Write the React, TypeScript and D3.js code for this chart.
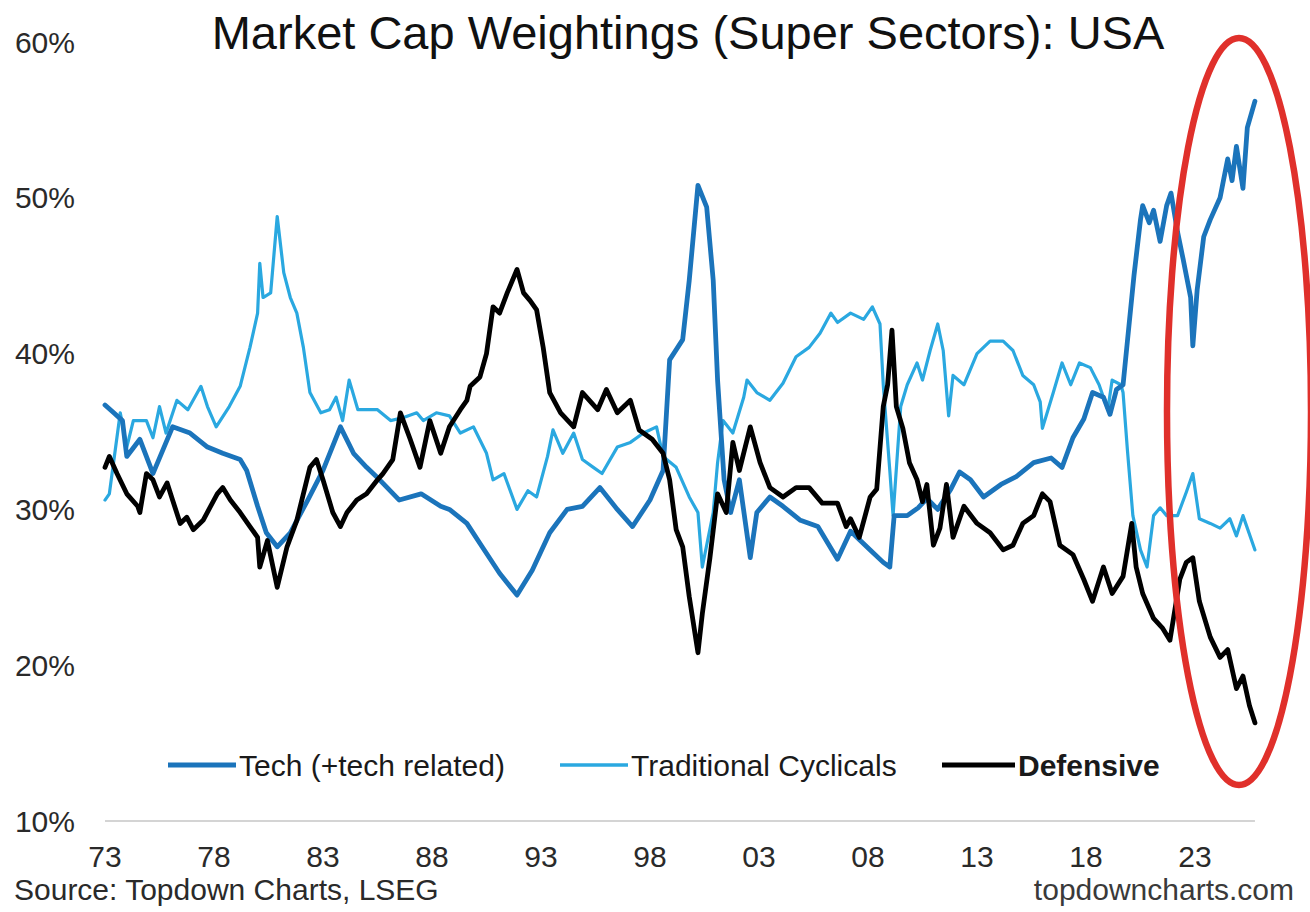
import React from 'react';
import * as d3 from 'd3';

// [year, % weight]
const tech: [number, number][] = [
  [1973.0, 36.7], [1973.4, 36.2], [1973.8, 35.7], [1974.0, 33.4], [1974.6, 34.5], [1975.2, 32.3],
  [1976.1, 35.3], [1976.9, 34.9], [1977.7, 34.0], [1978.4, 33.6], [1979.2, 33.2], [1979.5, 32.5],
  [1980.0, 30.2], [1980.4, 28.5], [1980.9, 27.6], [1981.5, 28.5], [1982.3, 30.6], [1983.0, 32.5],
  [1983.8, 35.3], [1984.4, 33.6], [1985.0, 32.7], [1985.6, 31.9], [1986.5, 30.6], [1987.5, 31.0],
  [1988.4, 30.2], [1988.8, 30.0], [1989.6, 29.1], [1990.3, 27.6], [1991.1, 25.9], [1991.9, 24.5],
  [1992.6, 26.1], [1993.4, 28.5], [1994.2, 30.0], [1994.9, 30.2], [1995.7, 31.4], [1996.5, 30.0],
  [1997.2, 28.9], [1998.0, 30.6], [1998.6, 32.5], [1998.9, 39.6], [1999.5, 40.9], [1999.8, 44.7],
  [2000.2, 50.8], [2000.6, 49.4], [2000.9, 44.7], [2001.1, 38.3], [2001.4, 31.9], [2001.7, 29.8],
  [2002.1, 31.9], [2002.6, 26.9], [2002.9, 29.8], [2003.5, 30.8], [2004.1, 30.2], [2004.9, 29.3],
  [2005.7, 28.9], [2006.6, 26.8], [2007.2, 28.6], [2008.1, 27.4], [2008.7, 26.6], [2009.0, 26.3],
  [2009.2, 29.6], [2009.8, 29.6], [2010.3, 30.1], [2010.7, 30.7], [2011.2, 30.0], [2011.8, 31.3],
  [2012.2, 32.4], [2012.7, 31.9], [2013.3, 30.8], [2014.1, 31.6], [2014.8, 32.1], [2015.6, 33.0],
  [2016.4, 33.3], [2016.9, 32.7], [2017.4, 34.6], [2017.9, 35.8], [2018.3, 37.5], [2018.8, 37.2],
  [2019.1, 36.1], [2019.4, 37.7], [2019.7, 38.0], [2019.9, 40.8], [2020.2, 45.0], [2020.5, 48.6],
  [2020.6, 49.5], [2020.9, 48.4], [2021.1, 49.2], [2021.4, 47.2], [2021.7, 49.5], [2021.9, 50.3],
  [2022.2, 47.8], [2022.45, 46.1], [2022.8, 43.6], [2022.9, 40.5], [2023.1, 44.1], [2023.4, 47.5],
  [2023.7, 48.6], [2024.15, 50.0], [2024.5, 52.5], [2024.7, 51.1], [2024.9, 53.3], [2025.2, 50.6],
  [2025.4, 54.5], [2025.75, 56.2],
];

const cyclicals: [number, number][] = [
  [1973.0, 30.6], [1973.2, 31.0], [1973.7, 36.2], [1974.0, 34.0], [1974.3, 35.7], [1974.9, 35.7],
  [1975.2, 34.6], [1975.5, 36.6], [1975.8, 34.9], [1976.3, 37.0], [1976.8, 36.4], [1977.4, 37.9],
  [1977.7, 36.6], [1978.1, 35.3], [1978.7, 36.6], [1979.2, 37.9], [1979.65, 40.4], [1980.0, 42.6],
  [1980.1, 45.8], [1980.25, 43.6], [1980.6, 43.9], [1980.9, 48.8], [1981.2, 45.2], [1981.5, 43.6],
  [1981.8, 42.6], [1982.1, 40.4], [1982.4, 37.5], [1982.9, 36.2], [1983.3, 36.4], [1983.6, 37.2],
  [1983.9, 35.7], [1984.2, 38.3], [1984.6, 36.4], [1985.0, 36.4], [1985.5, 36.4], [1986.1, 35.7],
  [1986.7, 35.9], [1987.3, 36.2], [1987.6, 35.7], [1988.2, 36.2], [1988.8, 36.0], [1989.3, 34.9],
  [1989.9, 35.3], [1990.5, 33.6], [1990.8, 31.9], [1991.3, 32.3], [1991.9, 30.0], [1992.4, 31.2],
  [1992.8, 30.8], [1993.3, 33.4], [1993.55, 35.1], [1994.0, 33.6], [1994.5, 34.9], [1994.9, 33.2],
  [1995.4, 32.7], [1995.8, 32.3], [1996.5, 34.0], [1997.1, 34.3], [1997.7, 34.9], [1998.3, 35.3],
  [1998.6, 33.4], [1999.2, 32.7], [1999.8, 30.8], [2000.2, 29.8], [2000.4, 26.3], [2000.9, 29.8],
  [2001.1, 33.0], [2001.35, 35.7], [2001.8, 34.9], [2002.3, 37.2], [2002.45, 38.3], [2002.9, 37.5],
  [2003.5, 37.0], [2004.1, 38.1], [2004.7, 39.8], [2005.3, 40.4], [2005.8, 41.3], [2006.3, 42.6],
  [2006.6, 42.0], [2007.2, 42.6], [2007.8, 42.2], [2008.2, 43.0], [2008.55, 41.9], [2008.7, 38.0],
  [2009.0, 32.5], [2009.15, 29.6], [2009.5, 36.6], [2009.8, 38.0], [2010.25, 39.4], [2010.5, 38.3],
  [2010.85, 40.2], [2011.2, 41.9], [2011.45, 40.2], [2011.7, 36.0], [2011.9, 38.6], [2012.4, 38.0],
  [2013.0, 40.0], [2013.6, 40.8], [2014.2, 40.8], [2014.65, 40.2], [2015.1, 38.6], [2015.6, 38.0],
  [2015.9, 36.9], [2016.0, 35.2], [2016.5, 37.5], [2016.9, 39.4], [2017.3, 38.0], [2017.7, 39.4],
  [2018.2, 39.1], [2018.6, 38.0], [2019.0, 36.4], [2019.2, 38.3], [2019.6, 38.0], [2019.7, 37.5],
  [2019.9, 33.8], [2020.15, 29.6], [2020.5, 27.4], [2020.8, 26.3], [2021.1, 29.6], [2021.4, 30.1],
  [2021.7, 29.6], [2022.2, 29.6], [2022.6, 31.1], [2022.9, 32.3], [2023.2, 29.4], [2023.7, 29.1],
  [2024.15, 28.8], [2024.6, 29.4], [2024.9, 28.3], [2025.2, 29.6], [2025.75, 27.4],
];

const defensive: [number, number][] = [
  [1973.0, 32.7], [1973.2, 33.4], [1973.55, 32.3], [1974.0, 31.0], [1974.5, 30.2], [1974.6, 29.8],
  [1974.9, 32.3], [1975.2, 31.9], [1975.5, 30.8], [1975.85, 31.7], [1976.1, 30.6], [1976.45, 29.1],
  [1976.75, 29.5], [1977.05, 28.7], [1977.5, 29.3], [1978.15, 31.0], [1978.4, 31.4], [1978.75, 30.6],
  [1979.2, 29.8], [1979.65, 28.9], [1980.0, 28.2], [1980.1, 26.3], [1980.45, 28.0], [1980.9, 25.0],
  [1981.35, 27.6], [1981.8, 29.3], [1982.4, 32.7], [1982.7, 33.2], [1983.0, 31.9], [1983.45, 29.8],
  [1983.8, 28.9], [1984.1, 29.8], [1984.55, 30.6], [1985.0, 31.0], [1985.5, 31.9], [1985.75, 32.3],
  [1986.2, 33.2], [1986.55, 36.2], [1987.0, 34.5], [1987.45, 32.7], [1987.9, 35.7], [1988.4, 33.6],
  [1988.8, 35.3], [1989.3, 36.4], [1989.6, 37.0], [1989.75, 37.9], [1990.2, 38.5], [1990.5, 40.0],
  [1990.8, 43.0], [1991.1, 42.6], [1991.45, 43.9], [1991.9, 45.4], [1992.2, 43.9], [1992.5, 43.4],
  [1992.8, 42.8], [1993.1, 40.4], [1993.4, 37.5], [1993.9, 36.2], [1994.5, 35.3], [1994.9, 37.5],
  [1995.6, 36.4], [1996.0, 37.7], [1996.5, 36.2], [1997.1, 37.0], [1997.5, 35.1], [1998.1, 34.5],
  [1998.6, 33.6], [1998.9, 31.9], [1999.2, 28.7], [1999.5, 27.6], [1999.8, 24.4], [2000.2, 20.8],
  [2000.4, 23.3], [2000.75, 26.9], [2001.1, 31.0], [2001.5, 29.8], [2001.8, 34.3], [2002.1, 32.5],
  [2002.6, 35.3], [2003.05, 33.0], [2003.5, 31.4], [2004.1, 30.8], [2004.7, 31.4], [2005.3, 31.4],
  [2005.9, 30.4], [2006.6, 30.4], [2007.0, 28.9], [2007.2, 29.4], [2007.6, 28.2], [2008.1, 30.8],
  [2008.4, 31.3], [2008.7, 36.6], [2008.9, 38.0], [2009.1, 41.5], [2009.3, 36.6], [2009.6, 35.2],
  [2009.9, 33.0], [2010.25, 31.9], [2010.5, 30.5], [2010.7, 31.6], [2011.0, 27.7], [2011.3, 28.8],
  [2011.6, 31.6], [2011.9, 28.2], [2012.4, 30.2], [2013.0, 29.1], [2013.6, 28.5], [2014.2, 27.4],
  [2014.65, 27.7], [2015.1, 29.1], [2015.6, 29.6], [2016.0, 31.0], [2016.35, 30.5], [2016.8, 27.7],
  [2017.4, 27.1], [2017.9, 25.5], [2018.3, 24.1], [2018.8, 26.3], [2019.2, 24.6], [2019.7, 25.7],
  [2020.1, 29.1], [2020.3, 26.3], [2020.6, 24.6], [2021.1, 23.0], [2021.5, 22.4], [2021.85, 21.6],
  [2022.3, 25.5], [2022.6, 26.6], [2022.9, 26.9], [2023.2, 24.1], [2023.7, 21.8], [2024.15, 20.5],
  [2024.5, 21.0], [2024.9, 18.5], [2025.2, 19.3], [2025.5, 17.4], [2025.75, 16.3],
];

const yTicks = [10, 20, 30, 40, 50, 60];
const xTickYears = [1973, 1978, 1983, 1988, 1993, 1998, 2003, 2008, 2013, 2018, 2023];

const W = 1310;
const H = 912;
const FONT = "'Liberation Sans', Arial, Helvetica, sans-serif";
const TECH_COLOR = '#1b74bb';
const CYC_COLOR = '#2aa8e0';
const DEF_COLOR = '#000000';

export default function App() {
  const x = d3.scaleLinear().domain([1973, 2023]).range([105, 1195]);
  const y = d3.scaleLinear().domain([10, 60]).range([821, 42]);

  const line = d3.line<[number, number]>()
    .x(d => x(d[0]))
    .y(d => y(d[1]))
    .curve(d3.curveLinear);

  const lastYear = tech[tech.length - 1][0];

  const legend = [
    { label: 'Tech (+tech related)', color: TECH_COLOR, width: 5, x0: 168, x1: 236, bold: false },
    { label: 'Traditional Cyclicals', color: CYC_COLOR, width: 3.5, x0: 560, x1: 628, bold: false },
    { label: 'Defensive', color: DEF_COLOR, width: 5, x0: 942, x1: 1015, bold: true },
  ];

  return (
    <svg width={W} height={H} style={{ position: 'absolute', left: 0, top: 0, background: '#fff' }}
      fontFamily={FONT}>
      <rect width={W} height={H} fill="#fff" />

      <text x={688} y={49} textAnchor="middle" fontSize={47} fill="#111">
        Market Cap Weightings (Super Sectors): USA
      </text>

      {/* baseline at 10% */}
      <line x1={x(1973)} x2={x(lastYear)} y1={y(10)} y2={y(10)} stroke="#d4d4d4" strokeWidth={2} />

      {yTicks.map(t => (
        <text key={t} x={75} y={y(t) + 10.5} textAnchor="end" fontSize={30} fill="#2a2a2a">
          {t}%
        </text>
      ))}

      {xTickYears.map(t => (
        <text key={t} x={x(t)} y={867} textAnchor="middle" fontSize={30} fill="#2a2a2a">
          {String(t % 100).padStart(2, '0')}
        </text>
      ))}

      <path d={line(cyclicals) || ''} fill="none" stroke={CYC_COLOR} strokeWidth={3.2}
        strokeLinejoin="round" strokeLinecap="round" />
      <path d={line(tech) || ''} fill="none" stroke={TECH_COLOR} strokeWidth={4.8}
        strokeLinejoin="round" strokeLinecap="round" />
      <path d={line(defensive) || ''} fill="none" stroke={DEF_COLOR} strokeWidth={4.8}
        strokeLinejoin="round" strokeLinecap="round" />

      {legend.map(l => (
        <g key={l.label}>
          <line x1={l.x0} x2={l.x1} y1={765} y2={765} stroke={l.color} strokeWidth={l.width} />
          <text x={l.x1 + 3} y={776} fontSize={30} fill="#1a1a1a" fontWeight={l.bold ? 'bold' : 'normal'}>
            {l.label}
          </text>
        </g>
      ))}

      <text x={14} y={900} fontSize={30} fill="#2a2a2a">Source: Topdown Charts, LSEG</text>
      <text x={1294} y={900} textAnchor="end" fontSize={30} fill="#3a3a3a">topdowncharts.com</text>

      <ellipse cx={1239} cy={411.5} rx={72} ry={373.5} fill="none" stroke="#e0302b" strokeWidth={6.5} />
    </svg>
  );
}
